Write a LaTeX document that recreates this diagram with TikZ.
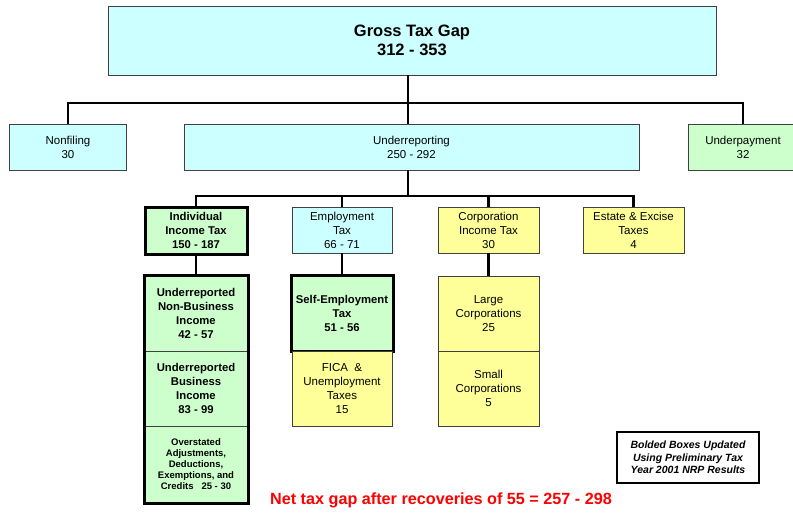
\documentclass[tikz,border=0pt]{standalone}
\usepackage{fontspec}
\setmainfont{Liberation Sans}
\definecolor{boxcyan}{HTML}{CCFFFF}
\definecolor{boxgreen}{HTML}{CCFFCC}
\definecolor{boxyellow}{HTML}{FFFF99}
\definecolor{netred}{HTML}{FF0000}
\begin{document}
\begin{tikzpicture}[x=1pt,y=-1pt,
  box/.style={draw=black!75, line width=0.8pt, align=center, inner sep=1pt, outer sep=0pt,
    font=\fontsize{11.5}{14}\selectfont},
  cyanbox/.style={box, fill=boxcyan},
  greenbox/.style={box, fill=boxgreen},
  yellowbox/.style={box, fill=boxyellow},
  thickbox/.style={draw=black, line width=3pt},
  conn/.style={draw=black, line width=2.6pt},
  bfsmall/.style={font=\fontsize{11.3}{14}\selectfont\bfseries}]
\useasboundingbox (0,0) rectangle (793,512);
% top
\node[cyanbox, minimum width=608, minimum height=69, font=\fontsize{16.5}{19.5}\selectfont\bfseries] (gross) at (412,40.5) {Gross Tax Gap\\312 - 353};
\node[cyanbox, minimum width=117, minimum height=46] (nonf) at (68,147) {Nonfiling\\30};
\node[cyanbox, minimum width=455, minimum height=46] (underrep) at (411.5,147) {Underreporting\\250 - 292};
\node[greenbox, minimum width=110, minimum height=46] (underpay) at (743,147) {Underpayment\\32};
\coordinate (j1) at (408,103);
\draw[conn] (gross.south -| j1) -- (j1);
\draw[conn] (nonf.north) |- (j1) -| (underpay.north);
\draw[conn] (j1) -- (underrep.north -| j1);
% second level
\node[greenbox, minimum width=102, minimum height=47, bfsmall] (indiv) at (196,230.5) {Individual\\Income Tax\\150 - 187};
\draw[thickbox] (indiv.north west) rectangle (indiv.south east);
\node[cyanbox, minimum width=100, minimum height=46] (employ) at (342,230) {Employment\\Tax\\66 - 71};
\node[yellowbox, minimum width=101, minimum height=46] (corp) at (488.5,230) {Corporation\\Income Tax\\30};
\node[yellowbox, minimum width=101, minimum height=46] (estate) at (633.5,230) {Estate \& Excise\\Taxes\\4};
\coordinate (j2) at (408,196);
\draw[conn] (underrep.south -| j2) -- (j2);
\draw[conn] (indiv.north) |- (j2) -| (estate.north);
\draw[conn] (employ.north) -- (employ.north |- j2);
\draw[conn] (corp.north) -- (corp.north |- j2);
% individual column
\node[greenbox, minimum width=104, minimum height=76, bfsmall] (nonbus) at (196,313) {Underreported\\Non-Business\\Income\\42 - 57};
\node[greenbox, minimum width=104, minimum height=75, bfsmall, anchor=north] (bus) at (nonbus.south) {Underreported\\Business\\Income\\83 - 99};
\node[greenbox, minimum width=104, minimum height=77, font=\fontsize{9.5}{11}\selectfont\bfseries, anchor=north] (overst) at (bus.south) {Overstated\\Adjustments,\\Deductions,\\Exemptions, and\\Credits\ \ \ 25 - 30};
\draw[thickbox] (nonbus.north west) rectangle (overst.south east);
\draw[conn] (indiv.south) -- (nonbus.north);
% employment column
\node[greenbox, minimum width=102, minimum height=76, bfsmall] (selfemp) at (342,313) {Self-Employment\\Tax\\51 - 56};
\draw[thickbox] (selfemp.north west) rectangle (selfemp.south east);
\node[yellowbox, minimum width=100, minimum height=75, anchor=north] (fica) at (selfemp.south) {FICA\ \ \&\\Unemployment\\Taxes\\15};
\draw[conn] (employ.south) -- (selfemp.north);
% corporation column
\node[yellowbox, minimum width=101, minimum height=75] (large) at (488.5,313.5) {Large\\Corporations\\25};
\node[yellowbox, minimum width=101, minimum height=75, anchor=north] (small) at (large.south) {Small\\Corporations\\5};
\draw[conn] (corp.south) -- (large.north);
% legend
\node[draw=black, line width=2.6pt, fill=white, minimum width=142, minimum height=51, align=center, inner sep=2pt,
  font=\fontsize{10.5}{12.5}\selectfont\bfseries\itshape] (legend) at (688,457.5) {Bolded Boxes Updated\\Using Preliminary Tax\\Year 2001 NRP Results};
% net text
\node[text=netred, font=\fontsize{16.2}{18}\selectfont\bfseries, inner sep=0pt] (net) at (441,500) {Net tax gap after recoveries of 55 = 257 - 298};
\end{tikzpicture}
\end{document}
